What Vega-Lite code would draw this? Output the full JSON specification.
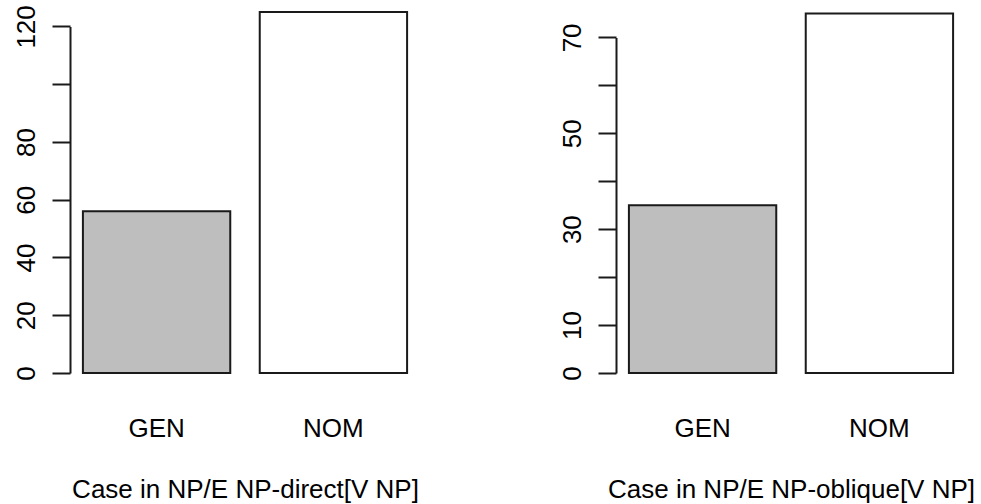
{
  "$schema": "https://vega.github.io/schema/vega-lite/v6.json",
  "background": "white",
  "padding": {"left": 13, "top": 4, "right": 5, "bottom": 5},
  "bounds": "flush",
  "spacing": 196,
  "config": {
    "view": {"stroke": null},
    "font": "Liberation Sans",
    "axis": {
      "labelFont": "Liberation Sans",
      "titleFont": "Liberation Sans",
      "labelFontSize": 26,
      "titleFontSize": 26,
      "titleFontWeight": "normal",
      "labelColor": "#000000",
      "titleColor": "#000000",
      "grid": false
    }
  },
  "hconcat": [
    {
      "width": 350,
      "height": 360,
      "data": {"values": [
        {"case": "GEN", "count": 56},
        {"case": "NOM", "count": 125}
      ]},
      "mark": {"type": "bar", "stroke": "#1a1a1a", "strokeWidth": 2},
      "encoding": {
        "x": {
          "field": "case", "type": "nominal",
          "scale": {"paddingInner": 0.1667, "paddingOuter": 0.073},
          "axis": {
            "title": "Case in NP/E NP-direct[V NP]",
            "domain": false, "ticks": false, "tickSize": 0,
            "labelAngle": 0, "labelPadding": 42, "titlePadding": 35
          }
        },
        "y": {
          "field": "count", "type": "quantitative",
          "scale": {"domain": [0, 120], "range": [360, 13.4], "nice": false, "zero": true},
          "axis": {
            "title": null,
            "values": [0, 20, 40, 60, 80, 100, 120],
            "labelExpr": "datum.value == 100 ? '' : datum.label",
            "labelAngle": -90, "labelAlign": "center", "labelBaseline": "bottom",
            "labelPadding": 13, "tickSize": 18, "tickWidth": 2, "tickColor": "#1a1a1a",
            "domainWidth": 2, "domainColor": "#1a1a1a"
          }
        },
        "fill": {
          "field": "case", "type": "nominal",
          "scale": {"domain": ["GEN", "NOM"], "range": ["#bebebe", "#ffffff"]},
          "legend": null
        }
      }
    },
    {
      "width": 350,
      "height": 360,
      "data": {"values": [
        {"case": "GEN", "count": 35},
        {"case": "NOM", "count": 75}
      ]},
      "mark": {"type": "bar", "stroke": "#1a1a1a", "strokeWidth": 2},
      "encoding": {
        "x": {
          "field": "case", "type": "nominal",
          "scale": {"paddingInner": 0.1667, "paddingOuter": 0.073},
          "axis": {
            "title": "Case in NP/E NP-oblique[V NP]",
            "domain": false, "ticks": false, "tickSize": 0,
            "labelAngle": 0, "labelPadding": 42, "titlePadding": 35
          }
        },
        "y": {
          "field": "count", "type": "quantitative",
          "scale": {"domain": [0, 70], "range": [360, 24.4], "nice": false, "zero": true},
          "axis": {
            "title": null,
            "values": [0, 10, 20, 30, 40, 50, 60, 70],
            "labelExpr": "(datum.value == 20 || datum.value == 40 || datum.value == 60) ? '' : datum.label",
            "labelAngle": -90, "labelAlign": "center", "labelBaseline": "bottom",
            "labelPadding": 13, "tickSize": 18, "tickWidth": 2, "tickColor": "#1a1a1a",
            "domainWidth": 2, "domainColor": "#1a1a1a"
          }
        },
        "fill": {
          "field": "case", "type": "nominal",
          "scale": {"domain": ["GEN", "NOM"], "range": ["#bebebe", "#ffffff"]},
          "legend": null
        }
      }
    }
  ]
}
